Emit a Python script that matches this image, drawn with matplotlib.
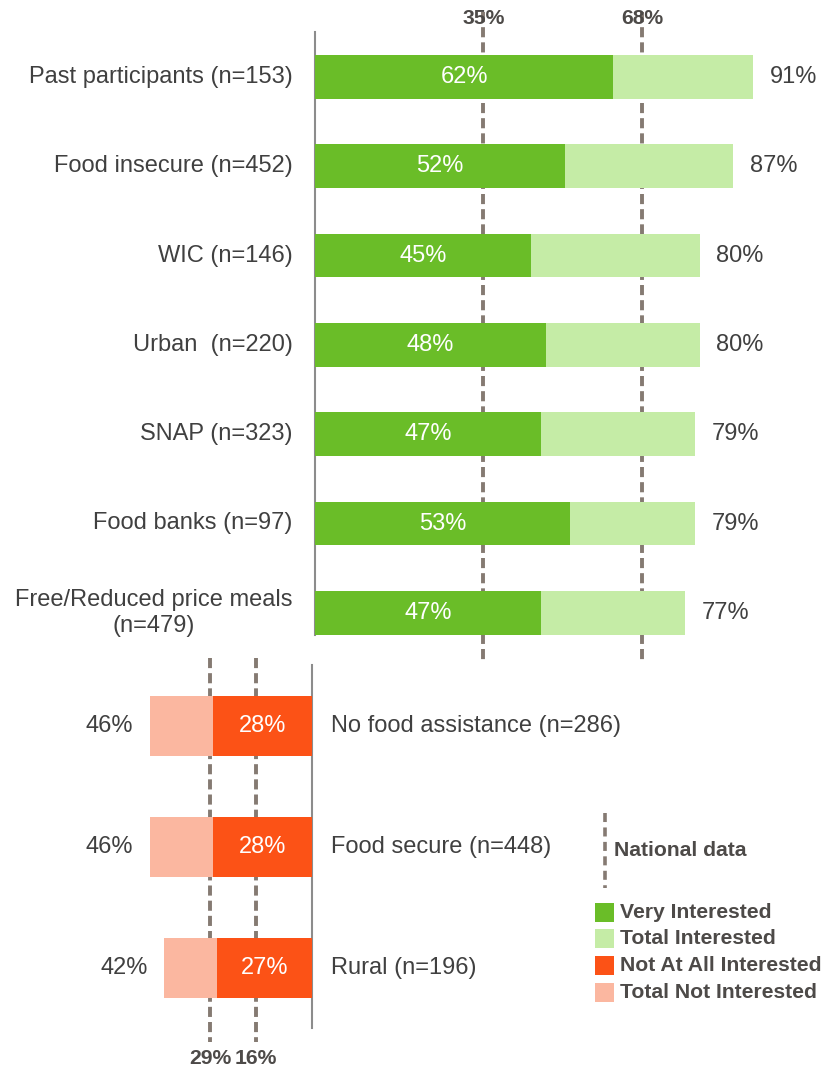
import matplotlib
matplotlib.use("Agg")
from matplotlib import pyplot as plt
from matplotlib.patches import Rectangle

plt.rcParams['font.family'] = ['Liberation Sans', 'DejaVu Sans']

# groups that lean towards interest
top_groups = ["Past participants (n=153)", "Food insecure (n=452)", "WIC (n=146)",
              "Urban  (n=220)", "SNAP (n=323)", "Food banks (n=97)",
              "Free/Reduced price meals\n(n=479)"]
very_interested = [62, 52, 45, 48, 47, 53, 47]
total_interested = [91, 87, 80, 80, 79, 79, 77]
national_interest = [35, 68]   # very / total, national

# groups that lean away
bottom_groups = ["No food assistance (n=286)", "Food secure (n=448)", "Rural (n=196)"]
not_at_all = [28, 28, 27]
total_not = [46, 46, 42]
national_not = [29, 16]   # total not / not at all, national

DARK_GREEN = "#6abd28"
LIGHT_GREEN = "#c5eca6"
ORANGE = "#fc5216"
SALMON = "#fbb7a0"
DASH = "#857a72"
AXIS = "#8c8c8c"
TEXT = "#404040"
BOLD_TEXT = "#4d4a48"
FS = 17
BFS = 15.2

W, H = 829, 1069
fig = plt.figure(figsize=(W / 100, H / 100), dpi=100)


def px_axes(x, y, w, h):
    return fig.add_axes([x / W, 1 - (y + h) / H, w / W, h / H])


def dashed(a, x, y0, y1):
    a.plot([x, x], [y0, y1], color=DASH, lw=2.8, dashes=(2.6, 1.3),
           solid_capstyle="butt", dash_capstyle="butt", clip_on=False, zorder=1)


# ---- top panel ----
ax = px_axes(315, 32, 514, 603)
scale = 4.81
row = 89.3
ax.set_xlim(0, 514 / scale)
ax.set_ylim((635 - 77) / row, (32 - 77) / row)
ys = list(range(len(top_groups)))
ax.barh(ys, total_interested, height=0.49, color=LIGHT_GREEN, zorder=2)
ax.barh(ys, very_interested, height=0.49, color=DARK_GREEN, zorder=3)
for y, v, t, name in zip(ys, very_interested, total_interested, top_groups):
    ax.text(v / 2, y, f"{v}%", color="white", fontsize=FS, ha="center", va="center", zorder=4)
    ax.annotate(f"{t}%", (t, y), xytext=(12, 0), textcoords="offset points",
                color=TEXT, fontsize=FS, ha="left", va="center")
    ax.annotate(name, (0, y), xytext=(-16, 0), textcoords="offset points",
                color=TEXT, fontsize=FS, ha="right", va="center", multialignment="center",
                linespacing=1.25, annotation_clip=False)
for v in national_interest:
    dashed(ax, v, (12 - 77) / row, (660 - 77) / row)
    ax.text(v, (18 - 77) / row, f"{v}%", color=BOLD_TEXT, fontsize=BFS, fontweight="bold",
            ha="center", va="center", zorder=5)
for s in ["top", "right", "bottom"]:
    ax.spines[s].set_visible(False)
ax.spines["left"].set_color(AXIS)
ax.spines["left"].set_linewidth(1.5)
ax.set_xticks([])
ax.set_yticks([])
ax.patch.set_alpha(0)

# ---- bottom panel ----
bx = px_axes(100, 665, 212, 363)
bscale = 3.52
brow = 121
bx.set_xlim(212 / bscale, 0)
bx.set_ylim((1028 - 726) / brow, (665 - 726) / brow)
bys = list(range(len(bottom_groups)))
bx.barh(bys, total_not, height=0.5, color=SALMON, zorder=2)
bx.barh(bys, not_at_all, height=0.5, color=ORANGE, zorder=3)
for y, v, t, name in zip(bys, not_at_all, total_not, bottom_groups):
    bx.text(v / 2, y, f"{v}%", color="white", fontsize=FS, ha="center", va="center", zorder=4)
    bx.annotate(f"{t}%", (t, y), xytext=(-12, 0), textcoords="offset points",
                color=TEXT, fontsize=FS, ha="right", va="center", annotation_clip=False)
    bx.annotate(name, (0, y), xytext=(14, 0), textcoords="offset points",
                color=TEXT, fontsize=FS, ha="left", va="center", annotation_clip=False)
for v in national_not:
    dashed(bx, v, (658 - 726) / brow, (1042 - 726) / brow)
    bx.text(v, (1058 - 726) / brow, f"{v}%", color=BOLD_TEXT, fontsize=BFS, fontweight="bold",
            ha="center", va="center")
for s in ["top", "left", "bottom"]:
    bx.spines[s].set_visible(False)
bx.spines["right"].set_color(AXIS)
bx.spines["right"].set_linewidth(1.5)
bx.set_xticks([])
bx.set_yticks([])
bx.patch.set_alpha(0)

# ---- legend ----
lg = fig.add_axes([0, 0, 1, 1])
lg.set_xlim(0, W)
lg.set_ylim(H, 0)
lg.axis("off")
lg.patch.set_alpha(0)
lg.plot([605, 605], [813, 888], color=DASH, lw=2.6, dashes=(2.5, 1.5),
        dash_capstyle="butt")
lg.text(614, 851, "National data", color=BOLD_TEXT, fontsize=BFS, fontweight="bold",
        ha="left", va="center")
legend_items = [("Very Interested", DARK_GREEN), ("Total Interested", LIGHT_GREEN),
                ("Not At All Interested", ORANGE), ("Total Not Interested", SALMON)]
for i, (label, color) in enumerate(legend_items):
    yc = 912 + i * 26.7
    lg.add_patch(Rectangle((595, yc - 9.5), 19, 19, color=color, lw=0))
    lg.text(620, yc, label, color=BOLD_TEXT, fontsize=BFS, fontweight="bold",
            ha="left", va="center")

fig.savefig("out.png", dpi=100)
